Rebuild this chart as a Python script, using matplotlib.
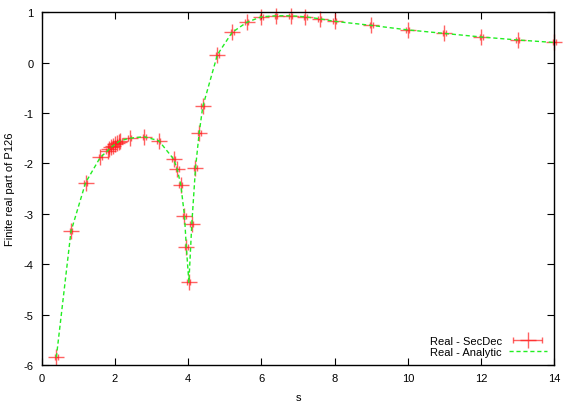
import numpy as np
import matplotlib.pyplot as plt
from matplotlib.legend_handler import HandlerErrorbar

plt.rcParams['font.family'] = ['Liberation Sans', 'DejaVu Sans']
plt.rcParams['axes.unicode_minus'] = False

# values
s_vals = [0.4, 0.8, 1.2, 1.6, 1.8, 1.85, 1.9, 1.95, 2.0, 2.05, 2.1, 2.15,
          2.4, 2.8, 3.2, 3.6, 3.7, 3.8, 3.9, 3.95, 4.02,
          4.1, 4.2, 4.3, 4.4, 4.8, 5.2, 5.6, 6.0, 6.4, 6.8, 7.2, 7.6, 8.0,
          9.0, 10.0, 11.0, 12.0, 13.0, 14.0]
real_secdec = [-5.85, -3.35, -2.38, -1.88, -1.75, -1.71, -1.68, -1.65, -1.62, -1.60, -1.57, -1.55,
               -1.50, -1.47, -1.55, -1.91, -2.11, -2.43, -3.04, -3.66, -4.36,
               -3.20, -2.10, -1.40, -0.87, 0.16, 0.60, 0.80, 0.91, 0.93, 0.93, 0.91, 0.87, 0.82,
               0.74, 0.65, 0.58, 0.51, 0.45, 0.40]
real_analytic = list(real_secdec)
s_err = [0.04] * len(s_vals)

fig = plt.figure(figsize=(5.75, 4.02), dpi=100)
ax = fig.add_axes([0.0725, 0.0896, 0.8915, 0.8774])

eb = ax.errorbar(s_vals, real_secdec, xerr=s_err, fmt='+', color='#ff2020', alpha=0.7,
                 ms=11, mew=1, elinewidth=1, capsize=2, capthick=1, clip_on=False,
                 label='Real - SecDec', zorder=2)
ln, = ax.plot(s_vals, real_analytic, '--', color='#22ee22', lw=1, dashes=(3, 2),
              label='Real - Analytic', zorder=3)

ax.set_xlim(0, 14)
ax.set_ylim(-6, 1)
ax.set_xticks(np.arange(0, 15, 2))
ax.set_yticks(np.arange(-6, 2, 1))
ax.tick_params(direction='in', top=True, right=True, length=5, labelsize=8, pad=6)
for sp in ax.spines.values():
    sp.set_linewidth(1)

ax.set_xlabel('s', fontsize=8, labelpad=6)
ax.set_ylabel('Finite real part of P126', fontsize=8, labelpad=6)

ax.legend([eb, ln], ['Real - SecDec', 'Real - Analytic'], loc='lower right',
          frameon=False, fontsize=8, markerfirst=False,
          handlelength=3.4, handletextpad=0.6, borderaxespad=0.3, labelspacing=0.15,
          handler_map={eb: HandlerErrorbar(xerr_size=1.3)})

fig.savefig('out.png', dpi=100)
